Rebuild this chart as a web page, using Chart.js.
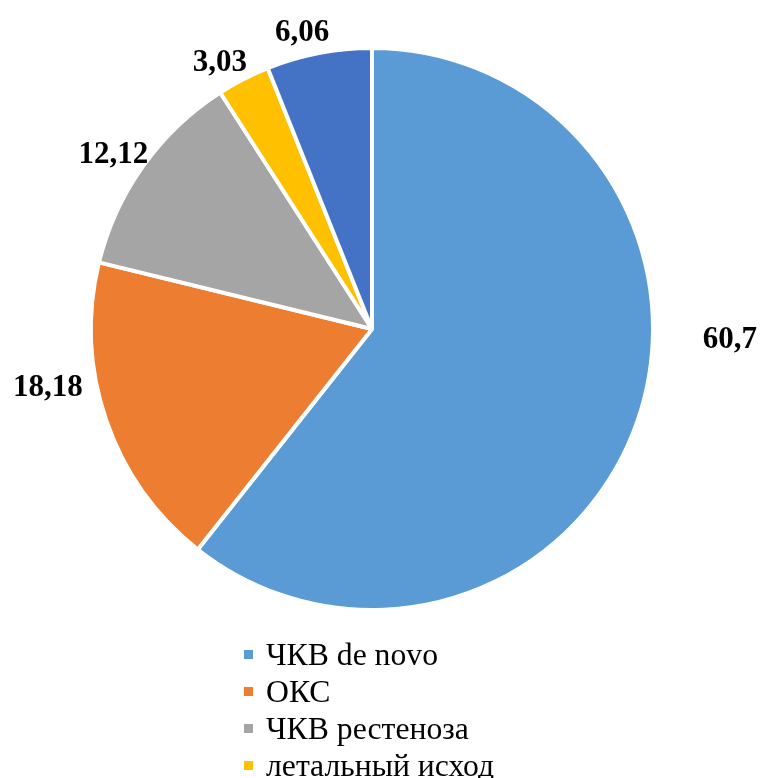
<!DOCTYPE html>
<html lang="ru">
<head>
<meta charset="utf-8">
<title>Структура вмешательств</title>
<script src="https://cdn.jsdelivr.net/npm/chart.js@4/dist/chart.umd.min.js"></script>
<style>
  html, body { margin: 0; padding: 0; background: #fff; overflow: hidden; }
  #wrap { position: relative; width: 760px; height: 778px; overflow: hidden; }
  #wrap canvas { position: absolute; left: 0; top: 0; }
  #legend {
    position: absolute; left: 244px; top: 636px; margin: 0; padding: 0;
    list-style: none; font-family: "Liberation Serif", "Times New Roman", serif;
    font-size: 31.7px; line-height: 37px; color: #000;
  }
  #legend li { position: relative; padding-left: 22px; white-space: nowrap; }
  #legend li span {
    position: absolute; left: 0; top: 14px; width: 9px; height: 9px;
  }
</style>
</head>
<body>
<div id="wrap">
  <canvas id="chart" width="760" height="778"></canvas>
  <ul id="legend"></ul>
</div>
<script>
// Доли исходов, %
const categories = ["ЧКВ de novo", "ОКС", "ЧКВ рестеноза", "летальный исход", "АКШ"];
const shares = [60.7, 18.18, 12.12, 3.03, 6.06];
const valueLabels = ["60,7", "18,18", "12,12", "3,03", "6,06"];
const sliceColors = ["#5B9BD5", "#ED7D31", "#A5A5A5", "#FFC000", "#4472C4"];

// Placement of each value label around the pie: angle (deg, clockwise from 3 o'clock)
// and distance from the centre as a multiple of the radius.
const labelAngle = [1.4, 170, 214.3, 240.4, 256.8];
const labelDist = [1.283, 1.18, 1.122, 1.104, 1.097];

const valueLabelPlugin = {
  id: "valueLabels",
  afterDatasetsDraw(chart) {
    const ctx = chart.ctx;
    const arcs = chart.getDatasetMeta(0).data;
    ctx.save();
    ctx.font = "bold 31px 'Liberation Serif', 'Times New Roman', serif";
    ctx.fillStyle = "#000";
    ctx.textAlign = "center";
    ctx.textBaseline = "middle";
    arcs.forEach((arc, i) => {
      const r = (arc.outerRadius - 2) * labelDist[i];
      const a = labelAngle[i] * Math.PI / 180;
      ctx.fillText(valueLabels[i], arc.x + r * Math.cos(a), arc.y + r * Math.sin(a) + 2);
    });
    ctx.restore();
  }
};

new Chart(document.getElementById("chart"), {
  type: "pie",
  data: {
    labels: categories,
    datasets: [{
      data: shares,
      backgroundColor: sliceColors,
      borderColor: "#ffffff",
      borderWidth: 4
    }]
  },
  options: {
    responsive: false,
    animation: false,
    radius: 281,
    layout: { padding: { left: 0, right: 16, top: 0, bottom: 120 } },
    plugins: {
      legend: { display: false },
      tooltip: { enabled: false }
    }
  },
  plugins: [valueLabelPlugin]
});

// Legend list built from the same categories and colours
const legend = document.getElementById("legend");
categories.forEach((name, i) => {
  const li = document.createElement("li");
  const sw = document.createElement("span");
  sw.style.background = sliceColors[i];
  li.appendChild(sw);
  li.appendChild(document.createTextNode(name));
  legend.appendChild(li);
});
</script>
</body>
</html>
